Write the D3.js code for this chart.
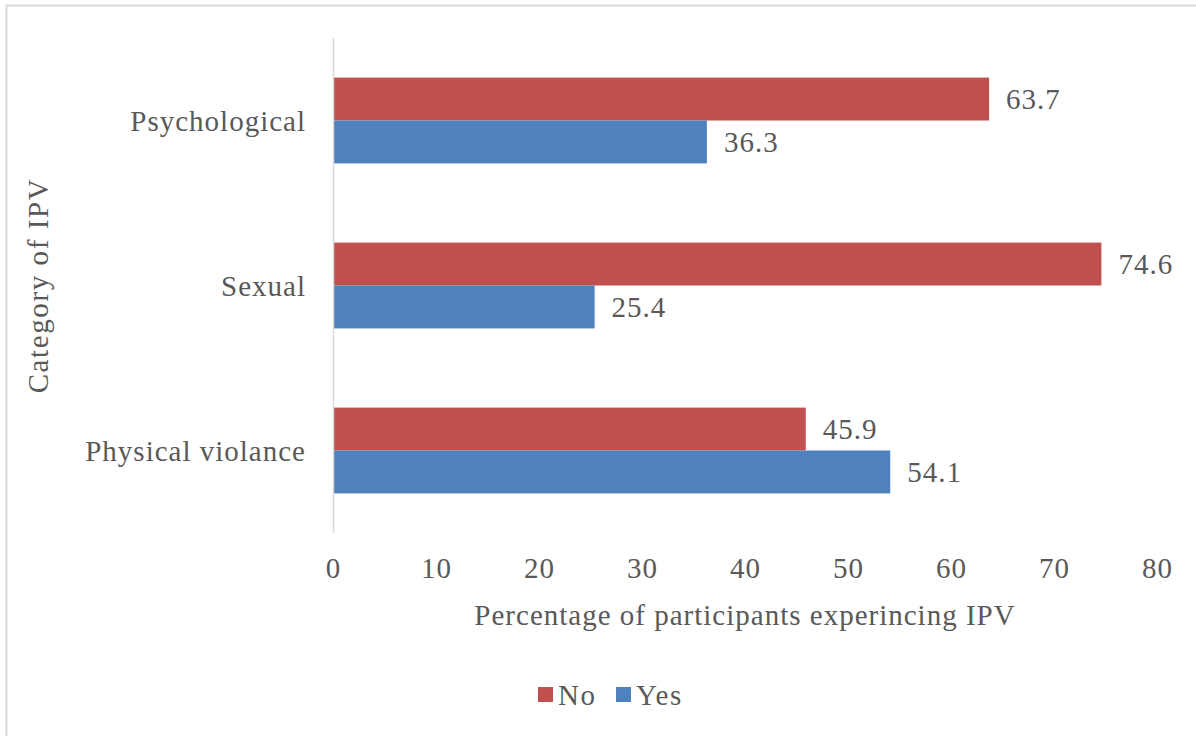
<!DOCTYPE html>
<html>
<head>
<meta charset="utf-8">
<script src="https://cdn.jsdelivr.net/npm/d3@7"></script>
<style>
  html, body { margin: 0; padding: 0; background: #fff; }
  svg { display: block; }
  text { font-family: "Liberation Serif", "Times New Roman", serif; fill: #595959; letter-spacing: 1px; }
</style>
</head>
<body>
<svg id="chart" width="1196" height="736"></svg>
<script>
// Share of participants reporting each category of intimate partner violence
const categories = ["Psychological", "Sexual", "Physical violance"];
const seriesNames = ["No", "Yes"];
const noValues = [63.7, 74.6, 45.9];
const yesValues = [36.3, 25.4, 54.1];
const xTicks = [0, 10, 20, 30, 40, 50, 60, 70, 80];
const seriesColors = ["#C0504D", "#4F81BD"];

const W = 1196, H = 736;
const margin = { left: 333, right: 39, top: 38, bottom: 203 };
const fontSize = 29;

const svg = d3.select("#chart");

// outer chart frame
svg.append("rect")
  .attr("x", 6.5).attr("y", 5.5)
  .attr("width", W + 20).attr("height", H + 20)
  .attr("fill", "#fff")
  .attr("stroke", "#d9d9d9").attr("stroke-width", 2);

const x = d3.scaleLinear().domain([0, 80]).range([margin.left, W - margin.right]);
const y = d3.scaleBand().domain(categories).range([margin.top, H - margin.bottom]).paddingInner(0.48).paddingOuter(0.24);
const ySub = d3.scaleBand().domain(seriesNames).range([0, y.bandwidth()]);

const rows = categories.map((c, i) => ({ cat: c, values: [noValues[i], yesValues[i]] }));

// bars
const groups = svg.append("g").selectAll("g").data(rows).join("g")
  .attr("transform", d => `translate(0,${y(d.cat)})`);

groups.selectAll("rect").data(d => d.values.map((v, j) => ({ v, s: seriesNames[j], j })))
  .join("rect")
  .attr("x", x(0))
  .attr("y", d => ySub(d.s))
  .attr("width", d => x(d.v) - x(0))
  .attr("height", ySub.bandwidth())
  .attr("fill", d => seriesColors[d.j]);

// value labels
groups.selectAll("text").data(d => d.values.map((v, j) => ({ v, s: seriesNames[j] })))
  .join("text")
  .attr("x", d => x(d.v) + 17)
  .attr("y", d => ySub(d.s) + ySub.bandwidth() / 2)
  .attr("dy", "0.35em")
  .attr("font-size", fontSize)
  .text(d => d.v.toFixed(1));

// vertical category axis line
svg.append("line")
  .attr("x1", x(0) + 0.5).attr("x2", x(0) + 0.5)
  .attr("y1", margin.top).attr("y2", H - margin.bottom)
  .attr("stroke", "#d9d9d9").attr("stroke-width", 1.5);

// category labels
svg.append("g").selectAll("text").data(categories).join("text")
  .attr("x", x(0) - 27)
  .attr("y", d => y(d) + y.bandwidth() / 2)
  .attr("dy", "0.35em")
  .attr("text-anchor", "end")
  .attr("font-size", fontSize)
  .text(d => d);

// value axis tick labels
const xAxis = d3.axisBottom(x).tickValues(xTicks).tickSize(0).tickPadding(0);
const xg = svg.append("g").attr("transform", `translate(0,${H - margin.bottom})`).call(xAxis);
xg.select(".domain").remove();
xg.selectAll("text")
  .attr("y", 35).attr("dy", "0.35em")
  .attr("font-size", fontSize)
  .attr("font-family", null)
  .style("fill", "#595959");

// axis titles
svg.append("text")
  .attr("x", (x(0) + x(80)) / 2).attr("y", 615).attr("dy", "0.35em")
  .attr("text-anchor", "middle").attr("font-size", fontSize)
  .text("Percentage of participants experincing IPV");

svg.append("text")
  .attr("transform", `translate(38,${(margin.top + H - margin.bottom) / 2}) rotate(-90)`)
  .attr("dy", "0.35em")
  .attr("text-anchor", "middle").attr("font-size", fontSize)
  .style("letter-spacing", "1.6px")
  .text("Category of IPV");

// legend
const legend = svg.append("g").attr("transform", "translate(538,695)");
const legendItems = legend.selectAll("g").data(seriesNames).join("g")
  .attr("transform", (d, i) => `translate(${i * 78},0)`);
legendItems.append("rect")
  .attr("x", 0).attr("y", -8).attr("width", 15).attr("height", 15)
  .attr("fill", (d, i) => seriesColors[i]);
legendItems.append("text")
  .attr("x", 20).attr("y", 0).attr("dy", "0.35em")
  .attr("font-size", fontSize)
  .style("letter-spacing", "1.5px")
  .text(d => d);
</script>
</body>
</html>
